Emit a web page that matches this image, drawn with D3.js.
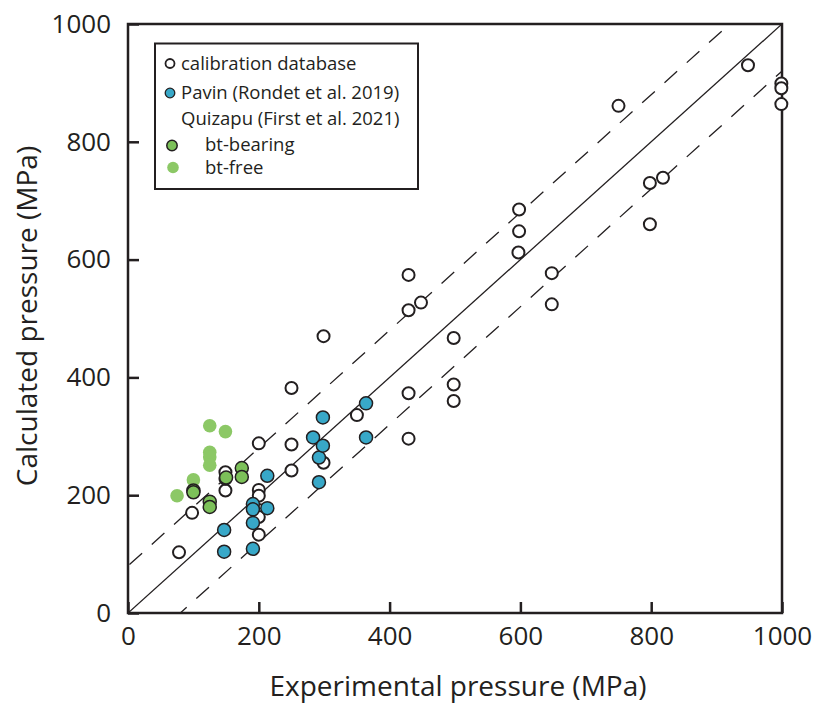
<!DOCTYPE html>
<html><head><meta charset="utf-8">
<script src="https://cdn.jsdelivr.net/npm/d3@7/dist/d3.min.js"></script>
<style>body{margin:0;background:#fff}svg{display:block}text{font-family:"Open Sans","Noto Sans",sans-serif;fill:#231f20}</style>
</head><body>
<svg id="c" width="819" height="709"></svg>
<script>
const calibration = [[78,103],[98,170],[149,208],[149,228],[149,239],[200,288],[200,209],[200,199],[200,175],[200,163],[200,133],[250,286],[250,242],[250,382],[299,470],[299,255],[350,336],[429,574],[429,514],[448,527],[429,373],[429,296],[498,467],[498,388],[498,360],[597,612],[598,685],[598,648],[648,577],[648,524],[750,861],[798,730],[818,739],[798,660],[948,930],[999,899],[999,891],[999,864]];
const pavin = [[147,141],[147,104],[191,185],[191,176],[191,153],[191,109],[213,233],[213,178],[283,298],[292,264],[292,222],[298,284],[298,332],[364,356],[364,298]];
const btBearing = [[100,208],[100,205],[125,189],[125,180],[150,230],[174,246],[174,231]];
const btFree = [[125,318],[149,308],[125,273],[125,265],[125,251],[100,226],[75,199]];
const ticks = [0,200,400,600,800,1000];
const offset = 80;
const legendItems = [
  {label:"calibration database", type:"cal"},
  {label:"Pavin (Rondet et al. 2019)", type:"pavin"},
  {label:"Quizapu (First et al. 2021)", type:"none"},
  {label:"bt-bearing", type:"bear"},
  {label:"bt-free", type:"free"}
];

const ink = "#231f20";
const blue = "#38a8c8", green = "#7cc159", greenFree = "#8cc866";
const svg = d3.select("#c");
const x = d3.scaleLinear().domain([0,1000]).range([128,782]);
const y = d3.scaleLinear().domain([0,1000]).range([613,24]);

svg.append("defs").append("clipPath").attr("id","clip")
  .append("rect").attr("x",128).attr("y",24).attr("width",654).attr("height",589);

const lines = svg.append("g").attr("clip-path","url(#clip)");
lines.append("line").attr("x1",x(0)).attr("y1",y(0)).attr("x2",x(1000)).attr("y2",y(1000))
  .attr("stroke",ink).attr("stroke-width",1.3);
[offset,-offset].forEach(o=>{
  lines.append("line").attr("x1",x(-100)).attr("y1",y(-100+o)).attr("x2",x(1100)).attr("y2",y(1100+o))
    .attr("stroke",ink).attr("stroke-width",1.3).attr("stroke-dasharray","17,13");
});

// axes
const xAxis = d3.axisBottom(x).tickValues(ticks).tickSize(-11).tickPadding(14).tickFormat(d3.format("d"));
const yAxis = d3.axisLeft(y).tickValues(ticks).tickSize(-11).tickPadding(17).tickFormat(d3.format("d"));
const gx = svg.append("g").attr("transform","translate(0,613)").call(xAxis);
const gy = svg.append("g").attr("transform","translate(128,0)").call(yAxis);
[gx,gy].forEach(g=>{
  g.select(".domain").remove();
  g.selectAll(".tick line").attr("stroke",ink).attr("stroke-width",2.5);
  g.selectAll(".tick text").attr("font-size",26).attr("fill",ink);
});
svg.append("rect").attr("x",128).attr("y",24).attr("width",654).attr("height",589)
  .attr("fill","none").attr("stroke",ink).attr("stroke-width",2.5);

// points
const pts = svg.append("g");
pts.selectAll(".cal").data(calibration).join("circle")
  .attr("cx",d=>x(d[0])).attr("cy",d=>y(d[1])).attr("r",6)
  .attr("fill","#fff").attr("stroke",ink).attr("stroke-width",2);
pts.selectAll(".pav").data(pavin).join("circle")
  .attr("cx",d=>x(d[0])).attr("cy",d=>y(d[1])).attr("r",6.5)
  .attr("fill",blue).attr("stroke",ink).attr("stroke-width",1.5);
pts.selectAll(".free").data(btFree).join("circle")
  .attr("cx",d=>x(d[0])).attr("cy",d=>y(d[1])).attr("r",6.8)
  .attr("fill",greenFree);
pts.selectAll(".bear").data(btBearing).join("circle")
  .attr("cx",d=>x(d[0])).attr("cy",d=>y(d[1])).attr("r",6.5)
  .attr("fill",green).attr("stroke",ink).attr("stroke-width",1.5);

// axis titles
svg.append("text").attr("x",458).attr("y",696).attr("text-anchor","middle").attr("font-size",28)
  .text("Experimental pressure (MPa)");
svg.append("text").attr("transform","translate(37,316) rotate(-90)").attr("text-anchor","middle").attr("font-size",28)
  .text("Calculated pressure (MPa)");

// legend
const lg = svg.append("g");
lg.append("rect").attr("x",155).attr("y",43.5).attr("width",263).attr("height",145.5)
  .attr("fill","#fff").attr("stroke",ink).attr("stroke-width",2);
const rows = [63,92,118,144,167];
legendItems.forEach((it,i)=>{
  const cy = rows[i];
  let tx = 181;
  if(it.type==="cal"){
    lg.append("circle").attr("cx",170).attr("cy",cy+0.5).attr("r",4.5).attr("fill","#fff").attr("stroke",ink).attr("stroke-width",1.8);
  } else if(it.type==="pavin"){
    lg.append("circle").attr("cx",170).attr("cy",cy+1).attr("r",4.8).attr("fill",blue).attr("stroke",ink).attr("stroke-width",1.3);
  } else if(it.type==="bear"){
    lg.append("circle").attr("cx",172).attr("cy",cy+1.5).attr("r",5.2).attr("fill",green).attr("stroke",ink).attr("stroke-width",1.5);
    tx = 205;
  } else if(it.type==="free"){
    lg.append("circle").attr("cx",173).attr("cy",cy+0.5).attr("r",5.8).attr("fill",greenFree);
    tx = 205;
  }
  lg.append("text").attr("x",tx).attr("y",cy+6.5).attr("font-size",18.5).text(it.label);
});
</script>
</body></html>
